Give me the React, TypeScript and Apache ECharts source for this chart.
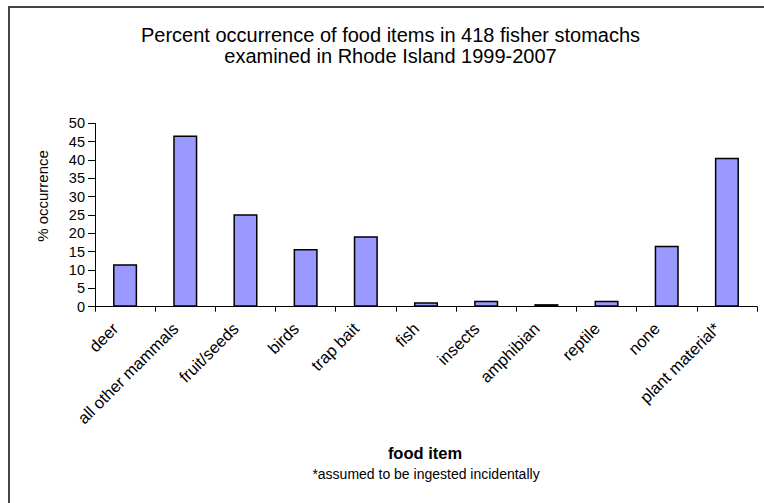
import React, { useEffect, useRef } from "react";
import * as echarts from "echarts";

const categories = [
  "deer",
  "all other mammals",
  "fruit/seeds",
  "birds",
  "trap bait",
  "fish",
  "insects",
  "amphibian",
  "reptile",
  "none",
  "plant material*",
];
const occurrence = [11.6, 46.7, 25.2, 15.7, 19.2, 1.2, 1.6, 0.7, 1.6, 16.6, 40.6];
const titleLines = [
  "Percent occurrence of food items in 418 fisher stomachs",
  "examined in Rhode Island 1999-2007",
];
const yName = "% occurrence";
const xName = "food item";
const footnote = "*assumed to be ingested incidentally";

const FONT = "'Liberation Sans', Arial, sans-serif";

export default function App() {
  const ref = useRef<HTMLDivElement>(null);
  useEffect(() => {
    if (!ref.current) return;
    const chart = echarts.init(ref.current, null, { renderer: "svg" });
    const txt = (text: string, x: number, y: number, size: number, extra: any = {}) => ({
      type: "text",
      x,
      y,
      silent: true,
      ...extra,
      style: {
        text,
        fontFamily: FONT,
        fontSize: size,
        fill: "#000",
        textAlign: "center",
        textVerticalAlign: "middle",
        ...(extra.style || {}),
      },
    });
    chart.setOption({
      animation: false,
      backgroundColor: "#ffffff",
      textStyle: { fontFamily: FONT, color: "#000" },
      grid: { left: 95, right: 7, top: 123.3, bottom: 196.3, containLabel: false },
      xAxis: {
        type: "category",
        data: categories,
        boundaryGap: true,
        axisLine: { show: true, lineStyle: { color: "#000", width: 1 } },
        axisTick: { show: true, alignWithLabel: false, length: 5, lineStyle: { color: "#000" } },
        axisLabel: {
          interval: 0,
          rotate: 45,
          margin: 9,
          padding: [0, 14, 0, 0],
          fontFamily: FONT,
          fontSize: 16.5,
          color: "#000",
        },
        splitLine: { show: false },
      },
      yAxis: {
        type: "value",
        min: 0,
        max: 50,
        interval: 5,
        axisLine: { show: true, lineStyle: { color: "#000", width: 1 } },
        axisTick: { show: true, inside: false, length: 7, lineStyle: { color: "#000" } },
        axisLabel: { margin: 10, fontFamily: FONT, fontSize: 14.5, color: "#000" },
        splitLine: { show: false },
      },
      series: [
        {
          type: "bar",
          data: occurrence,
          barWidth: "40%",
          itemStyle: { color: "#9999FF", borderColor: "#000", borderWidth: 1.5 },
        },
      ],
      graphic: [
        {
          type: "rect",
          shape: { x: 9, y: 7, width: 820, height: 560 },
          style: { fill: "none", stroke: "#444", lineWidth: 2 },
          silent: true,
        },
        txt(titleLines[0], 390.5, 34.5, 20),
        txt(titleLines[1], 390.5, 55.5, 20),
        txt(yName, 42, 196, 15, { rotation: Math.PI / 2 }),
        txt(xName, 425, 452.5, 16.5, { style: { fontWeight: "bold" } }),
        txt(footnote, 426, 474, 14),
      ],
    });
    return () => chart.dispose();
  }, []);
  return (
    <div
      ref={ref}
      style={{ position: "absolute", left: 0, top: 0, width: 764, height: 503 }}
    />
  );
}
